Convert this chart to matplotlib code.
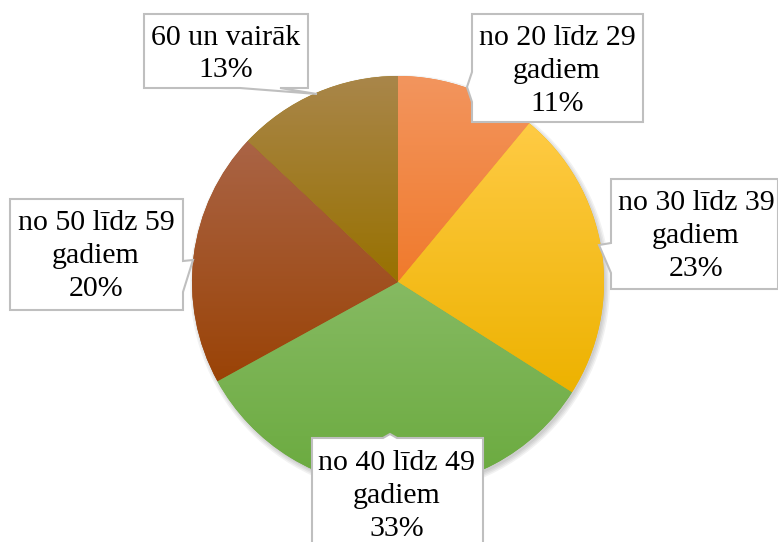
import matplotlib.pyplot as plt
import numpy as np
from matplotlib.colors import LinearSegmentedColormap
from matplotlib.patches import Polygon, Circle

plt.rcParams['font.family'] = ['Liberation Serif', 'DejaVu Serif']

# age groups and their shares (%)
categories = ["no 20 līdz 29\ngadiem", "no 30 līdz 39\ngadiem", "no 40 līdz 49\ngadiem",
              "no 50 līdz 59\ngadiem", "60 un vairāk"]
values = [11, 23, 33, 20, 13]

# gradient colours per slice (top -> bottom)
top_cols = ["#F3955E", "#FFCB45", "#86BA62", "#AA6446", "#A9864A"]
bot_cols = ["#F07A2C", "#EDB200", "#6AAA3E", "#9A4306", "#987100"]

# callout box outlines (pixel coords) and label centres
callouts = [
    [(472, 14), (643, 14), (643, 122), (472, 122), (472, 102), (467, 87), (472, 72)],
    [(611, 179), (778, 179), (778, 289), (611, 289), (611, 273), (599, 245), (611, 243)],
    [(312, 438), (383, 438), (390, 434), (397, 438), (483, 438), (483, 545), (312, 545)],
    [(10, 199), (183, 199), (183, 261), (193, 260), (183, 292), (183, 310), (10, 310)],
    [(144, 14), (308, 14), (308, 88), (280, 88), (317, 94), (240, 88), (144, 88)],
]
label_pos = [(557, 71), (696, 236), (397, 496), (96, 256), (226, 54)]

cx, cy, R = 398, 282, 206

fig = plt.figure(figsize=(7.78, 5.42), dpi=100)
ax = fig.add_axes([0, 0, 1, 1])

# soft shadow
for i in range(4):
    ax.add_patch(Circle((cx + 2, cy + 3), R + 4 - i * 1.5, color="black", alpha=0.05, lw=0, zorder=0))

wedges, _ = ax.pie(values, center=(cx, cy), radius=R, startangle=-90, counterclock=True,
                   colors=bot_cols, wedgeprops=dict(linewidth=0))

grad = np.linspace(0, 1, 256).reshape(-1, 1)
for w, c1, c2 in zip(wedges, top_cols, bot_cols):
    w.set_zorder(1)
    t = np.radians(np.linspace(w.theta1, w.theta2, 100))
    ys = np.concatenate([cy + R * np.sin(t), [cy]])
    cmap = LinearSegmentedColormap.from_list("g", [c1, c2])
    im = ax.imshow(grad, cmap=cmap, aspect="auto", origin="upper",
                   extent=(cx - R, cx + R, ys.max(), ys.min()), zorder=2)
    im.set_clip_path(w)

for pts, (lx, ly), cat, v in zip(callouts, label_pos, categories, values):
    ax.add_patch(Polygon(pts, closed=True, facecolor="white", edgecolor="#BFBFBF", lw=1.5, zorder=5))
    ax.text(lx, ly, f"{cat}\n{v}%", ha="center", va="center", fontsize=21.5,
            linespacing=1.33, zorder=6)

ax.set_xlim(0, 778)
ax.set_ylim(542, 0)
ax.set_aspect("auto")
ax.axis("off")
fig.savefig("out.png", dpi=100)
